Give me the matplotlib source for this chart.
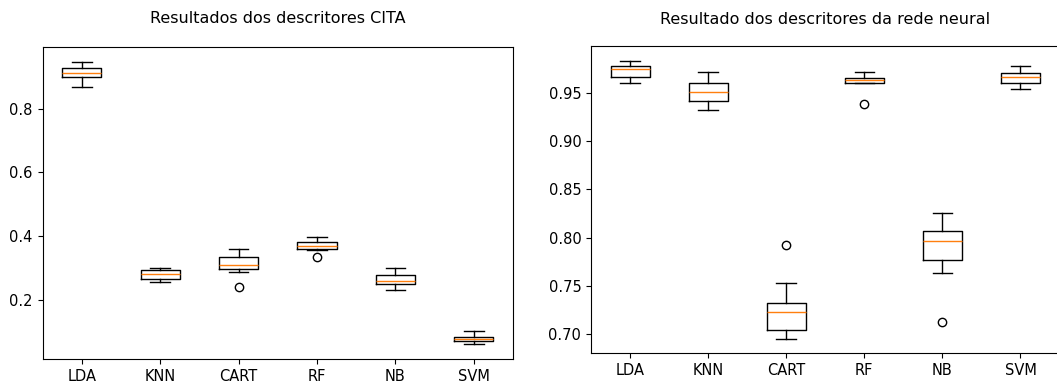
import matplotlib.pyplot as plt

names = ['LDA', 'KNN', 'CART', 'RF', 'NB', 'SVM']

# descritores CITA
cita_whislo = [0.868, 0.257, 0.288, 0.358, 0.232, 0.062]
cita_q1 = [0.899, 0.267, 0.297, 0.361, 0.249, 0.070]
cita_med = [0.910, 0.280, 0.311, 0.369, 0.260, 0.079]
cita_q3 = [0.926, 0.294, 0.335, 0.381, 0.279, 0.085]
cita_whishi = [0.947, 0.301, 0.361, 0.397, 0.301, 0.103]
cita_fliers = [[], [], [0.240], [0.335], [], []]

# descritores da rede neural
rede_whislo = [0.9604, 0.9327, 0.6948, 0.9604, 0.7633, 0.9545]
rede_q1 = [0.9666, 0.9414, 0.7035, 0.9604, 0.7768, 0.9604]
rede_med = [0.9749, 0.9517, 0.7225, 0.9635, 0.7968, 0.9666]
rede_q3 = [0.9777, 0.9604, 0.7322, 0.9662, 0.8072, 0.9707]
rede_whishi = [0.9835, 0.9718, 0.7529, 0.9718, 0.8259, 0.9780]
rede_fliers = [[], [], [0.7923], [0.9386], [0.7121], []]


def make_stats(lo, q1, med, q3, hi, fl):
    stats = []
    for i in range(len(names)):
        stats.append({'label': names[i], 'whislo': lo[i], 'q1': q1[i],
                      'med': med[i], 'q3': q3[i], 'whishi': hi[i],
                      'fliers': fl[i]})
    return stats


W, H = 1057, 386
fig = plt.figure(figsize=(W / 100, H / 100), dpi=100)

ax1 = fig.add_axes([42.5 / W, 1 - 359 / H, (513 - 42.5) / W, (359 - 47) / H])
ax1.bxp(make_stats(cita_whislo, cita_q1, cita_med, cita_q3, cita_whishi, cita_fliers))
ax1.set_ylim(0.015, 0.993)
ax1.set_yticks([0.2, 0.4, 0.6, 0.8])
ax1.set_title('Resultados dos descritores CITA', fontsize=11.5, pad=17)

# right panel is cut off at the image edge in the original
ax2 = fig.add_axes([591 / W, 1 - 353 / H, (1059.5 - 591) / W, (353 - 46) / H])
ax2.bxp(make_stats(rede_whislo, rede_q1, rede_med, rede_q3, rede_whishi, rede_fliers))
ax2.set_ylim(0.680, 0.999)
ax2.set_yticks([0.70, 0.75, 0.80, 0.85, 0.90, 0.95])
ax2.set_title('Resultado dos descritores da rede neural', fontsize=11.5, pad=16)

for ax in (ax1, ax2):
    ax.tick_params(labelsize=10.5)

fig.savefig('out.png', dpi=100)
